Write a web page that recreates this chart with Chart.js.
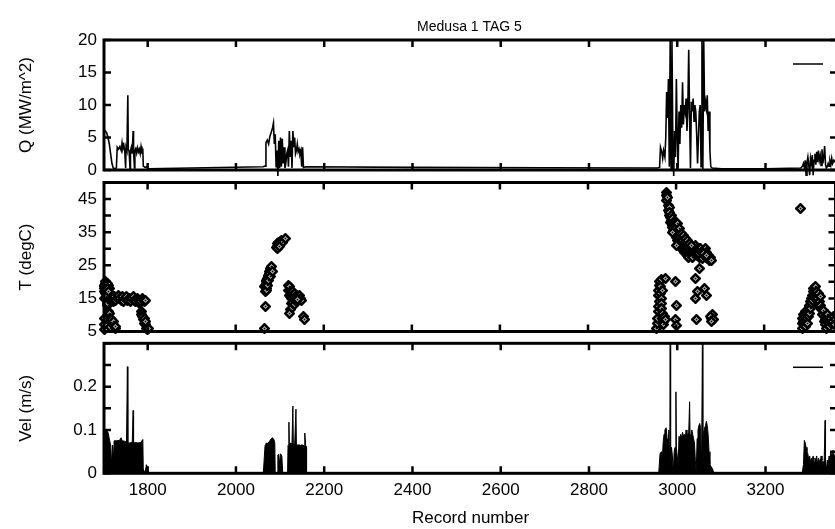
<!DOCTYPE html>
<html>
<head>
<meta charset="utf-8">
<script src="https://cdn.jsdelivr.net/npm/chart.js@4.4.1/dist/chart.umd.min.js"></script>
<style>
html, body { margin: 0; padding: 0; background: #fff; overflow: hidden; width: 835px; height: 529px; }
canvas { position: absolute; left: 0; }
</style>
</head>
<body>
<canvas id="qChart" width="842" height="176" style="top:0px"></canvas>
<canvas id="tChart" width="842" height="162" style="top:176px"></canvas>
<canvas id="vChart" width="842" height="191" style="top:338px"></canvas>
<script>
// ticks
const xTicks = [1800, 2000, 2200, 2400, 2600, 2800, 3000, 3200];
const qTicks = [0, 5, 10, 15, 20];
const tTicks = [5, 10, 15, 20, 25, 30, 35, 40, 45, 50];
const tLabels = [5, 15, 25, 35, 45];
const vTicks = [0, 0.05, 0.1, 0.15, 0.2, 0.25, 0.3];
const vLabels = [0, 0.1, 0.2];

// Q (MW/m^2)
const qRecord = [1701, 1704, 1707, 1710, 1713, 1716, 1719, 1722, 1726, 1729, 1731, 1734, 1737, 1740, 1742, 1744, 1746, 1748, 1750, 1751, 1753, 1755, 1756, 1758, 1760, 1761, 1763, 1765, 1767, 1768, 1770, 1771, 1773, 1775, 1777, 1779, 1781, 1783, 1785, 1787, 1789, 1790, 1794, 1798, 1801,
  2062, 2066, 2068, 2071, 2074, 2077, 2080, 2083, 2085, 2087, 2089, 2091, 2093, 2095, 2097, 2099, 2101, 2103, 2105, 2107, 2109, 2111, 2113, 2115, 2117, 2119, 2121, 2123, 2125, 2127, 2129, 2131, 2133, 2135, 2137, 2139, 2141, 2143, 2145, 2147, 2149, 2151, 2153, 2158, 2400, 2700, 2955,
  2960, 2962, 2965, 2967, 2969, 2972, 2974, 2976, 2978, 2980, 2982, 2984, 2986, 2988, 2990, 2992, 2994, 2996, 2998, 3000, 3002, 3004, 3006, 3008, 3010, 3012, 3014, 3016, 3018, 3020, 3022, 3024, 3026, 3028, 3030, 3032, 3034, 3036, 3038, 3040, 3042, 3044, 3046, 3048, 3050, 3052, 3054, 3056, 3058, 3060, 3062, 3064, 3066, 3068, 3070, 3072, 3074, 3076, 3079, 3100, 3200, 3280,
  3284, 3286, 3288, 3290, 3292, 3294, 3296, 3298, 3300, 3302, 3304, 3306, 3308, 3310, 3312, 3314, 3316, 3318, 3320, 3322, 3324, 3326, 3328, 3330, 3332, 3334, 3336, 3338, 3340, 3342, 3344, 3346, 3348, 3350, 3352, 3355, 3358, 3362];
const qFlux = [6.2, 6.0, 5.7, 5.0, 4.0, 2.5, 1.0, 0.3, 0.2, 0.3, 3.5, 3.2, 3.6, 3.0, 4.2, 3.3, 3.8, 3.0, 0.3, 3.5, 3.0, 11.5, 3.2, 2.8, 0.2, 3.0, 3.5, 2.5, 6.0, 2.8, 0.3, 3.0, 3.3, 2.6, 3.4, 2.8, 3.2, 2.5, 3.6, 2.8, 3.0, 0.6, 0.4, 0.5, 0.2,
  0.5, 0.6, 4.2, 4.6, 4.0, 5.2, 5.8, 6.5, 7.2, 4.0, 5.5, 0.5, 3.0, -1.0, 4.5, 0.3, 5.0, 0.5, 4.8, 1.0, 3.5, 0.3, 1.0, 2.5, 3.0, 0.5, 6.0, 2.0, 4.5, 0.3, 6.0, 3.5, 5.0, 2.5, 3.0, 4.0, 2.8, 3.2, 2.5, 3.0, 0.5, 3.5, 0.4, 0.5, 0.4, 0.35, 0.3,
  0.4, 3.5, 2.8, 1.8, 3.0, 2.0, 5.0, 12.0, 8.0, 14.0, 0.5, 20, 0.0, 20, 4.0, -1.0, 6.0, 2.0, 14.0, 5.0, 0.2, 9.0, 4.0, 10.0, 6.5, 13.5, 7.0, 10.0, 9.0, 11.0, 6.0, 9.5, 18.5, 8.0, 0.3, 10.5, 9.0, 11.0, 7.5, 10.0, 9.0, 5.5, 1.0, 5.0, 9.0, 10.0, 0.5, 20, 0.0, 20, 9.0, 10.5, 9.5, 11.5, 6.0, 9.0, 3.0, 0.5, 0.3, 0.2, 0.2, 0.3,
  0.6, 1.0, 0.4, 1.5, -0.8, 1.2, 2.0, 0.8, -0.8, 1.8, 1.0, 2.3, -0.8, 1.5, 2.5, 0.8, 2.8, 1.2, 3.0, 1.5, 2.2, 0.7, 3.2, 1.0, 2.0, 3.7, 0.8, 0.3, 0.5, 1.0, 0.6, 1.4, 0.8, 1.8, 1.0, 1.5, 1.2, 1.4];

// T (degC)
const tRecord = [
  1701, 1702, 1701, 1703, 1705, 1705, 1707, 1709, 1711, 1713, 1703, 1704, 1706, 1704, 1706, 1708, 1710, 1712,
  1701, 1702, 1703,
  1708, 1710, 1712, 1714, 1716, 1718, 1720, 1722, 1724, 1726, 1728,
  1716, 1719, 1722, 1725, 1728, 1731, 1734, 1737, 1740, 1743, 1746, 1749, 1752, 1755, 1758, 1761, 1764, 1767, 1770, 1773, 1776, 1779, 1782, 1785, 1788, 1791, 1794, 1796,
  1786, 1787, 1789, 1790, 1792, 1793, 1795, 1797, 1799, 1801, 1796,
  2066, 2067, 2067, 2066, 2068, 2069, 2070, 2071, 2072, 2073, 2074, 2075, 2076, 2077, 2078, 2079, 2080, 2081, 2070, 2069, 2072, 2074, 2077, 2080, 2083,
  2093, 2094, 2095, 2097, 2098, 2100, 2101, 2103, 2105, 2107, 2112, 2096, 2099,
  2120, 2121, 2122, 2123, 2124, 2125, 2126, 2127, 2128, 2130, 2131, 2132, 2134, 2135, 2136, 2138, 2139, 2140, 2142, 2144, 2146, 2148, 2150, 2126, 2124, 2123, 2155, 2157, 2129, 2133, 2137, 2141,
  2955, 2957, 2958, 2960, 2961, 2962, 2960, 2961, 2962, 2963, 2964, 2965, 2966, 2967, 2968, 2969, 2970, 2971, 2972, 2973, 2968, 2970, 2975, 2998, 3001, 2999, 3001, 2975,
  2978, 2979, 2979, 2980, 2982, 2983, 2984, 2985, 2986, 2987, 2988, 2989, 2990, 2991, 2992, 2993, 2994, 2995, 2996, 2997, 2998, 2999, 3000, 3001, 3002, 3003, 3004, 3005, 3006, 3007, 3008, 3009, 3010, 3011, 3012, 3013, 3014, 3015, 3016, 3017, 3018, 3019, 3020, 3021, 3022, 3023, 3024, 3025, 3026, 3027, 3028, 3029, 3030, 3032, 3034, 3036, 3038, 3040, 3042, 3044, 3046, 3048, 3050, 3052, 3054, 3056, 3058, 3060, 3062, 3064, 3066, 3068, 3070, 3072, 3074, 3076, 3078, 3080,
  3003, 3007, 3012, 3016, 3021, 3025, 3031, 3035, 3041, 3045, 3051, 3057, 3063, 3069,
  2993, 3001, 3043, 3049, 3045, 3068, 3054, 3047, 3065, 3080, 3082, 3078, 3084, 3081,
  3286, 3287, 3288, 3289, 3290, 3291, 3292, 3293, 3294, 3295, 3296, 3297, 3298, 3300, 3301, 3302, 3303, 3304, 3305, 3306, 3307, 3308, 3309, 3310, 3311, 3312, 3313, 3314, 3315, 3316, 3317, 3318, 3319, 3320, 3321, 3322, 3323, 3324, 3325, 3326, 3327, 3329, 3330, 3333, 3335, 3337, 3338, 3339, 3340, 3341, 3342, 3343, 3345, 3347, 3349, 3351, 3353, 3355, 3357, 3359, 3361];
const tTemp = [
  19, 18, 17, 18.5, 20, 17, 19, 18.5, 19, 18, 15, 16.5, 15.5, 19.5, 18, 19.5, 18, 17,
  5.5, 7, 9,
  13, 13.5, 11, 10.5, 9, 8.5, 7.5, 8, 6.5, 6, 6.5,
  14.5, 15, 14, 15.5, 14.5, 15, 16, 15, 14.5, 15.5, 14, 15, 15.5, 14.5, 15, 14, 15, 15.5, 14.5, 14, 15, 14.5, 13.5, 14, 15, 14.5, 14, 14.5,
  11, 10, 9.5, 8.5, 9, 7.5, 7, 6, 5.5, 6, 8,
  6, 12.5, 17, 18.5, 19, 18, 20, 19.5, 21, 20.5, 22, 21.5, 23, 22, 23.5, 24, 23, 24.5, 17.5, 20.5, 19, 20.5, 22.5, 21.5, 23,
  30.5, 31.5, 30.8, 31.2, 32, 31.5, 32.3, 31.8, 32.5, 32, 33, 30.2, 30.6,
  19, 17.5, 18.5, 16, 17, 15.5, 16.5, 15, 17, 16, 14.5, 15.5, 16.5, 14, 15, 16, 15.5, 14.5, 15.5, 15, 16, 15, 14.5, 13.5, 11.5, 10.5, 9.5, 8.5, 13.8, 13.2, 14.2, 14.8,
  6, 7.5, 9, 11, 12.5, 14, 16, 17.5, 19, 20, 18.5, 16.5, 15, 13.5, 12, 10.5, 9, 8, 7, 9.5, 20.8, 17.5, 21, 20.2, 13, 8.7, 6.9, 8.5,
  47, 46, 44.5, 45.5, 43, 41.5, 42.5, 40, 41, 39.5, 38, 40, 38.5, 37, 39, 36.5, 38, 35.5, 37, 34.5, 36, 38, 35, 33.5, 36.5, 34, 32.5, 35, 33, 31.5, 34, 32, 30.5, 33, 31, 33.5, 30, 32.5, 31, 29.5, 32, 30.5, 29, 31.5, 30, 28.5, 31, 29.5, 28, 30.5, 29, 27.5, 30, 28.5, 30, 29, 27.5, 30, 28.5, 31, 29.5, 28, 30, 29, 27.5, 30, 28.5, 27, 29.5, 28, 30, 27.5, 29, 27, 28, 26.5, 27.5, 26.5,
  37.5, 36, 34.5, 34, 33, 32.5, 31.5, 31, 29, 28.5, 28.5, 29, 28.5, 28,
  35, 31, 21, 17.2, 15, 16, 24, 8.5, 18, 9, 10, 9.5, 8.5, 8,
  6, 7.5, 9, 8, 10, 7, 9.5, 11, 8.5, 6.5, 10.5, 9, 7.5, 11.5, 9.5, 12.5, 10.5, 13, 14, 12, 15, 13.5, 16, 14.5, 17, 15.5, 18, 16.5, 17.5, 15, 18.5, 16, 17, 14.5, 16, 15, 13.5, 16.5, 14, 12.5, 15.5, 13, 11.5, 10, 11.3, 8, 9.5, 7, 8.5, 6, 9, 10, 7.5, 8.5, 6.5, 9, 7.5, 8, 9.5, 7, 8.5];

// Vel (m/s)
const vRecord = [1701, 1705, 1710, 1713, 1716, 1718, 1720, 1722, 1724, 1730, 1736, 1740, 1742, 1748, 1752, 1754, 1755, 1760, 1765, 1767, 1768, 1772, 1778, 1784, 1789, 1790, 1794, 1797, 1799, 1802,
  2062, 2066, 2068, 2071, 2074, 2077, 2080, 2083, 2086, 2088, 2089, 2094, 2095, 2097, 2099, 2101, 2104, 2106, 2117, 2118, 2120, 2121, 2124, 2127, 2129, 2130, 2133, 2136, 2137, 2140, 2143, 2146, 2149, 2152, 2155, 2156, 2158, 2159, 2160,
  2958, 2961, 2964, 2966, 2968, 2970, 2972, 2975, 2977, 2979, 2981, 2983, 2984, 2985, 2987, 2989, 2991, 2993, 2995, 2997, 2998, 3000, 3002, 3004, 3006, 3008, 3010, 3012, 3014, 3016, 3018, 3020, 3022, 3024, 3026, 3028, 3029, 3031, 3033, 3035, 3037, 3039, 3041, 3043, 3045, 3047, 3049, 3051, 3053, 3055, 3057, 3058, 3060, 3062, 3064, 3066, 3068, 3070, 3072, 3074, 3077, 3080, 3083,
  3283, 3286, 3288, 3290, 3292, 3294, 3296, 3298, 3300, 3302, 3304, 3306, 3308, 3310, 3312, 3314, 3316, 3318, 3320, 3322, 3324, 3326, 3328, 3330, 3333, 3335, 3336, 3338, 3340, 3342, 3344, 3346, 3348, 3350, 3353, 3356, 3362];
const vVel = [0.10, 0.10, 0.095, 0.08, 0.065, 0.02, 0.065, 0.03, 0.075, 0.075, 0.076, 0.082, 0.075, 0.074, 0.072, 0.246, 0.07, 0.07, 0.072, 0.145, 0.07, 0.071, 0.07, 0.071, 0.078, 0.01, 0.0, 0.02, 0.015, 0.0,
  0, 0.065, 0.07, 0.068, 0.072, 0.075, 0.08, 0.082, 0.078, 0.07, 0, 0, 0.042, 0.044, 0.02, 0.045, 0.04, 0, 0, 0.065, 0.118, 0.066, 0.07, 0.068, 0.155, 0.07, 0.066, 0.148, 0.067, 0.065, 0.066, 0.064, 0.066, 0.065, 0.063, 0.093, 0.064, 0.062, 0,
  0, 0.045, 0.05, 0.03, 0.07, 0.09, 0.1, 0.105, 0.08, 0.06, 0.1, 0.0, 0.3, 0.0, 0.06, 0.04, 0.0, 0.05, 0.06, 0.188, 0.06, 0.04, 0.02, 0.085, 0.07, 0.09, 0.08, 0.095, 0.085, 0.09, 0.08, 0.1, 0.085, 0.09, 0.095, 0.165, 0.09, 0.085, 0.1, 0.09, 0.08, 0.07, 0.03, 0.0, 0.08, 0.1, 0.11, 0.115, 0.105, 0.0, 0.3, 0.0, 0.095, 0.105, 0.11, 0.12, 0.11, 0.09, 0.05, 0.02, 0.015, 0.01, 0.0,
  0, 0.02, 0.076, 0.07, 0.06, 0.05, 0.045, 0.03, 0.04, 0.025, 0.035, 0.03, 0.04, 0.025, 0.035, 0.03, 0.04, 0.02, 0.035, 0.03, 0.025, 0.04, 0.03, 0.02, 0.03, 0.122, 0.02, 0.01, 0.03, 0.02, 0.04, 0.03, 0.05, 0.04, 0.053, 0.04, 0.05];

const fontFamily = "'Liberation Sans', Arial, sans-serif";
const font = { family: fontFamily, size: 17 };

// diamond marker with centre dot, drawn pixel-exact
const marker = document.createElement('canvas');
marker.width = 11; marker.height = 11;
(function () {
  const c = marker.getContext('2d');
  c.beginPath();
  c.moveTo(5.5, 1.3); c.lineTo(9.7, 5.5); c.lineTo(5.5, 9.7); c.lineTo(1.3, 5.5); c.closePath();
  c.fillStyle = '#fff'; c.fill();
  c.lineWidth = 2.6; c.strokeStyle = '#000'; c.stroke();
  c.fillStyle = '#000'; c.fillRect(4.5, 4.5, 2, 2);
})();

// frame, inward ticks, legend sample and title
const framePlugin = {
  id: 'frame',
  beforeDatasetsDraw(chart) {
    chart.ctx.imageSmoothingEnabled = false;
  },
  afterDatasetsDraw(chart, args, opts) {
    const { ctx, chartArea: a, scales: { x, y } } = chart;
    ctx.save();
    ctx.strokeStyle = '#000';
    ctx.lineWidth = 3;
    ctx.strokeRect(a.left, a.top, a.right - a.left, a.bottom - a.top);
    ctx.lineWidth = 2.5;
    ctx.beginPath();
    x.ticks.forEach(t => {
      const px = x.getPixelForValue(t.value);
      ctx.moveTo(px, a.top); ctx.lineTo(px, a.top + 7);
      ctx.moveTo(px, a.bottom); ctx.lineTo(px, a.bottom - 7);
    });
    y.ticks.forEach(t => {
      const py = y.getPixelForValue(t.value);
      ctx.moveTo(a.left, py); ctx.lineTo(a.left + 7, py);
      ctx.moveTo(a.right, py); ctx.lineTo(a.right - 7, py);
    });
    ctx.stroke();
    if (opts.sample === 'line') {
      ctx.lineWidth = 1.5;
      ctx.beginPath();
      ctx.moveTo(a.right - 44, a.top + 24);
      ctx.lineTo(a.right - 14, a.top + 24);
      ctx.stroke();
    } else if (opts.sample === 'diamond') {
      ctx.drawImage(marker, Math.round(a.right - 41), Math.round(a.top + 20));
    }
    if (opts.title) {
      ctx.fillStyle = '#000';
      ctx.font = opts.titleSize + 'px ' + fontFamily;
      ctx.textAlign = 'center';
      ctx.textBaseline = 'middle';
      ctx.fillText(opts.title, (a.left + a.right) / 2 - 1, a.top - 13);
    }
    ctx.restore();
  }
};

function xScale(showLabels, height) {
  return {
    type: 'linear', min: 1701, max: 3362,
    afterBuildTicks: s => { s.ticks = xTicks.map(v => ({ value: v })); },
    afterFit: s => { s.height = height; s.paddingLeft = 0; s.paddingRight = 0; },
    grid: { display: false, drawTicks: false },
    border: { display: false },
    ticks: { display: showLabels, padding: 7, font, color: '#000', maxRotation: 0, autoSkip: false, callback: v => String(v) },
    title: { display: showLabels, text: 'Record number', font, color: '#000', padding: { top: 0, bottom: 0 } }
  };
}

function yScale(min, max, ticks, labels, title) {
  return {
    min, max,
    afterBuildTicks: s => { s.ticks = ticks.map(v => ({ value: v })); },
    afterFit: s => { s.width = 104; s.paddingTop = 0; s.paddingBottom = 0; },
    grid: { display: false, drawTicks: false },
    border: { display: false },
    ticks: { padding: 7, font, color: '#000', autoSkip: false, callback: v => labels.includes(v) ? String(v) : '' },
    title: { display: true, text: title, font, color: '#000', padding: { top: 16, bottom: 0 } }
  };
}

Chart.defaults.animation = false;
Chart.defaults.responsive = false;

new Chart(document.getElementById('qChart'), {
  type: 'line',
  data: {
    datasets: [{
      data: qRecord.map((r, i) => ({ x: r, y: qFlux[i] })),
      borderColor: '#000', borderWidth: 1.6, pointRadius: 0, tension: 0, clip: false
    }]
  },
  options: {
    layout: { padding: { top: 40, right: 5, bottom: 6, left: 0 } },
    plugins: {
      legend: { display: false }, tooltip: { enabled: false },
      frame: { sample: 'line', title: 'Medusa 1 TAG 5', titleSize: 14 }
    },
    scales: { x: xScale(false, 0), y: yScale(0, 20, qTicks, qTicks, 'Q (MW/m^2)') }
  },
  plugins: [framePlugin]
});

new Chart(document.getElementById('tChart'), {
  type: 'scatter',
  data: {
    datasets: [{
      data: tRecord.map((r, i) => ({ x: r, y: tTemp[i] })),
      pointStyle: marker, pointRadius: 5.5, clip: false
    }]
  },
  options: {
    layout: { padding: { top: 5.6, right: 5, bottom: 6.1, left: 0 } },
    plugins: { legend: { display: false }, tooltip: { enabled: false }, frame: { sample: 'diamond' } },
    scales: { x: xScale(false, 0), y: yScale(5, 50, tTicks, tLabels, 'T (degC)') }
  },
  plugins: [framePlugin]
});

new Chart(document.getElementById('vChart'), {
  type: 'line',
  data: {
    datasets: [{
      data: vRecord.map((r, i) => ({ x: r, y: vVel[i] })),
      borderColor: '#000', backgroundColor: '#000', borderWidth: 1, pointRadius: 0, tension: 0, fill: 'origin'
    }]
  },
  options: {
    layout: { padding: { top: 5.3, right: 5, bottom: 0, left: 0 } },
    plugins: { legend: { display: false }, tooltip: { enabled: false }, frame: { sample: 'line' } },
    scales: { x: xScale(true, 55.7), y: yScale(0, 0.3, vTicks, vLabels, 'Vel (m/s)') }
  },
  plugins: [framePlugin]
});
</script>
</body>
</html>
